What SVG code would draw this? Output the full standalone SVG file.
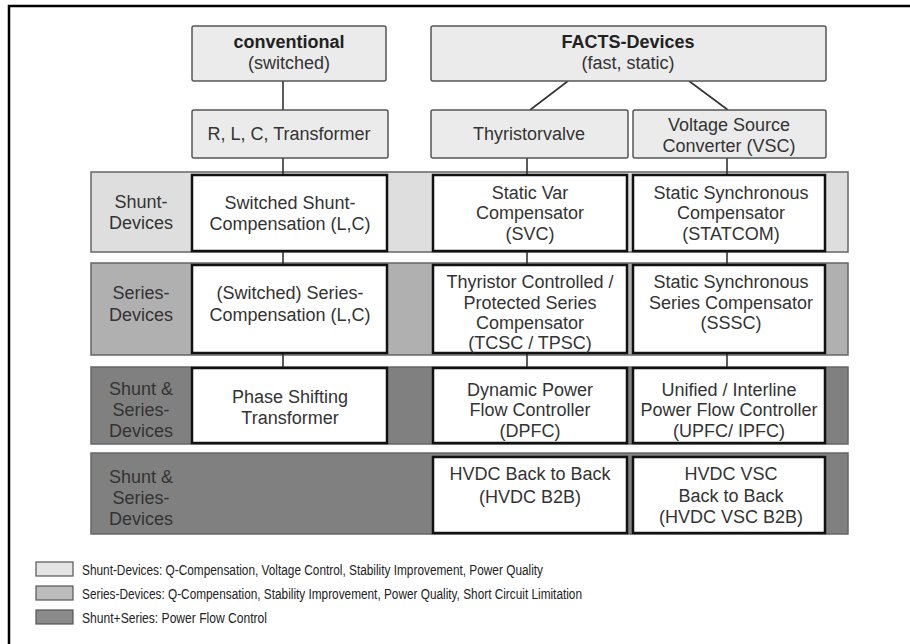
<svg xmlns="http://www.w3.org/2000/svg" width="910" height="644" viewBox="0 0 910 644">
<style>
text{font-family:"Liberation Sans",Arial,sans-serif;fill:#333;text-anchor:middle}
.t{font-size:18px}
.b{font-size:18px;font-weight:bold;fill:#222}
.lg{font-size:14px;text-anchor:start;fill:#222}
.top{fill:#ebebeb;stroke:#555;stroke-width:1.5}
.node{fill:#fff;stroke:#111;stroke-width:2.5}
.band{stroke:#666;stroke-width:1.5}
.b1{fill:#dedede}.b2{fill:#b0b0b0}.b3{fill:#808080}
.con{stroke:#333;stroke-width:1.6;fill:none}
</style>
<rect x="9" y="6" width="905" height="645" fill="#fff" stroke="#000" stroke-width="2.5"/>

<g id="bands">
<rect class="band b1" x="91" y="172" width="757" height="80"/>
<rect class="band b2" x="91" y="263" width="757" height="92"/>
<rect class="band b3" x="91" y="367" width="757" height="77"/>
<rect class="band b3" x="91" y="453" width="757" height="81"/>
</g>

<g id="connectors">
<line class="con" x1="283" y1="81" x2="283" y2="110"/>
<line class="con" x1="283" y1="158" x2="283" y2="175"/>
<line class="con" x1="568" y1="81" x2="530" y2="110"/>
<line class="con" x1="689" y1="81" x2="728" y2="110"/>
<line class="con" x1="527" y1="158" x2="527" y2="175"/>
<line class="con" x1="727" y1="158" x2="727" y2="175"/>
<line class="con" x1="283" y1="251" x2="283" y2="265"/>
<line class="con" x1="527" y1="251" x2="527" y2="265"/>
<line class="con" x1="727" y1="251" x2="727" y2="265"/>
<line class="con" x1="283" y1="353" x2="283" y2="368"/>
<line class="con" x1="527" y1="353" x2="527" y2="368"/>
<line class="con" x1="727" y1="353" x2="727" y2="368"/>
</g>

<g id="conventional">
<rect class="top" x="192" y="26" width="194" height="55" rx="2"/>
<text class="b" x="289" y="48">conventional</text>
<text class="t" x="289" y="69">(switched)</text>
</g>
<g id="facts">
<rect class="top" x="431" y="26" width="395" height="55" rx="2"/>
<text class="b" x="628" y="48">FACTS-Devices</text>
<text class="t" x="628" y="69">(fast, static)</text>
</g>
<g id="rlc">
<rect class="top" x="192" y="110" width="196" height="48" rx="2"/>
<text class="t" x="289" y="140">R, L, C, Transformer</text>
</g>
<g id="thyristorvalve">
<rect class="top" x="431" y="110" width="197" height="48" rx="2"/>
<text class="t" x="529" y="140">Thyristorvalve</text>
</g>
<g id="vsc">
<rect class="top" x="633" y="110" width="193" height="48" rx="2"/>
<text class="t" x="729" y="131">Voltage Source</text>
<text class="t" x="729" y="152">Converter (VSC)</text>
</g>

<g id="label-shunt">
<text class="t" x="141" y="208">Shunt-</text>
<text class="t" x="141" y="229">Devices</text>
</g>
<g id="label-series">
<text class="t" x="141" y="299">Series-</text>
<text class="t" x="141" y="321">Devices</text>
</g>
<g id="label-shuntseries1">
<text class="t" x="141" y="395">Shunt &amp;</text>
<text class="t" x="141" y="416">Series-</text>
<text class="t" x="141" y="437">Devices</text>
</g>
<g id="label-shuntseries2">
<text class="t" x="141" y="483">Shunt &amp;</text>
<text class="t" x="141" y="504">Series-</text>
<text class="t" x="141" y="525">Devices</text>
</g>

<g id="switched-shunt">
<rect class="node" x="192" y="175" width="195" height="76"/>
<text class="t" x="290" y="209">Switched Shunt-</text>
<text class="t" x="290" y="230">Compensation (L,C)</text>
</g>
<g id="svc">
<rect class="node" x="433" y="175" width="194" height="76"/>
<text class="t" x="530" y="199">Static Var</text>
<text class="t" x="530" y="219">Compensator</text>
<text class="t" x="530" y="240">(SVC)</text>
</g>
<g id="statcom">
<rect class="node" x="633" y="175" width="192" height="76"/>
<text class="t" x="731" y="199">Static Synchronous</text>
<text class="t" x="731" y="219">Compensator</text>
<text class="t" x="731" y="240">(STATCOM)</text>
</g>

<g id="switched-series">
<rect class="node" x="192" y="265" width="195" height="88"/>
<text class="t" x="290" y="299">(Switched) Series-</text>
<text class="t" x="290" y="321">Compensation (L,C)</text>
</g>
<g id="tcsc">
<rect class="node" x="433" y="265" width="194" height="88"/>
<text class="t" x="530" y="288">Thyristor Controlled /</text>
<text class="t" x="530" y="309">Protected Series</text>
<text class="t" x="530" y="329">Compensator</text>
<text class="t" x="530" y="349">(TCSC / TPSC)</text>
</g>
<g id="sssc">
<rect class="node" x="633" y="265" width="192" height="88"/>
<text class="t" x="731" y="288">Static Synchronous</text>
<text class="t" x="731" y="309">Series Compensator</text>
<text class="t" x="731" y="329">(SSSC)</text>
</g>

<g id="pst">
<rect class="node" x="192" y="368" width="195" height="75"/>
<text class="t" x="290" y="403">Phase Shifting</text>
<text class="t" x="290" y="424">Transformer</text>
</g>
<g id="dpfc">
<rect class="node" x="433" y="368" width="194" height="75"/>
<text class="t" x="530" y="396">Dynamic Power</text>
<text class="t" x="530" y="416">Flow Controller</text>
<text class="t" x="530" y="437">(DPFC)</text>
</g>
<g id="upfc">
<rect class="node" x="633" y="368" width="192" height="75"/>
<text class="t" x="729" y="396">Unified / Interline</text>
<text class="t" x="729" y="416">Power Flow Controller</text>
<text class="t" x="729" y="437">(UPFC/ IPFC)</text>
</g>

<g id="hvdc-b2b">
<rect class="node" x="433" y="457" width="194" height="76"/>
<text class="t" x="530" y="480">HVDC Back to Back</text>
<text class="t" x="530" y="503">(HVDC B2B)</text>
</g>
<g id="hvdc-vsc-b2b">
<rect class="node" x="633" y="457" width="192" height="76"/>
<text class="t" x="731" y="480">HVDC VSC</text>
<text class="t" x="731" y="502">Back to Back</text>
<text class="t" x="731" y="523">(HVDC VSC B2B)</text>
</g>

<g id="legend">
<rect x="36" y="562" width="37" height="14" fill="#e4e4e4" stroke="#555" stroke-width="1.2"/>
<rect x="36" y="586" width="37" height="14" fill="#bcbcbc" stroke="#555" stroke-width="1.2"/>
<rect x="36" y="610" width="37" height="14" fill="#8a8a8a" stroke="#555" stroke-width="1.2"/>
<text class="lg" x="82" y="575" textLength="461" lengthAdjust="spacingAndGlyphs">Shunt-Devices: Q-Compensation, Voltage Control, Stability Improvement, Power Quality</text>
<text class="lg" x="82" y="599" textLength="500" lengthAdjust="spacingAndGlyphs">Series-Devices: Q-Compensation, Stability Improvement, Power Quality, Short Circuit Limitation</text>
<text class="lg" x="82" y="623" textLength="185" lengthAdjust="spacingAndGlyphs">Shunt+Series: Power Flow Control</text>
</g>
</svg>
